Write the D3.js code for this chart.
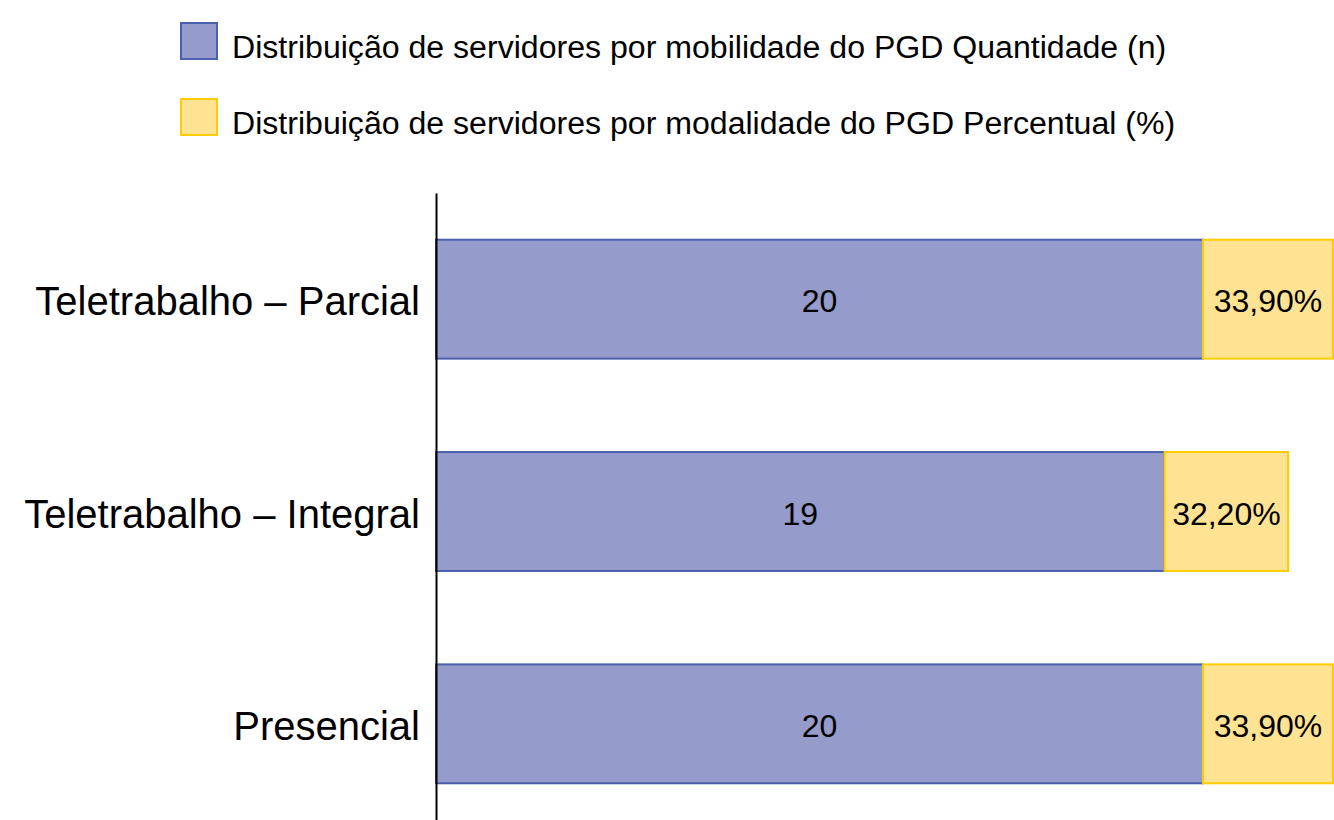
<!DOCTYPE html>
<html>
<head>
<meta charset="utf-8">
<script src="https://cdn.jsdelivr.net/npm/d3@7"></script>
<style>
  html, body { margin: 0; padding: 0; background: #ffffff; }
  svg { display: block; font-family: "Liberation Sans", Arial, sans-serif; }
</style>
</head>
<body>
<svg id="chart" width="1334" height="820"></svg>
<script>
// Categories and series
const categories = ["Teletrabalho – Parcial", "Teletrabalho – Integral", "Presencial"];
const quantidade = [20, 19, 20];
const percentual = [33.9, 32.2, 33.9];
const percentLabels = ["33,90%", "32,20%", "33,90%"];
const seriesNames = [
  "Distribuição de servidores por mobilidade do PGD Quantidade (n)",
  "Distribuição de servidores por modalidade do PGD Percentual (%)"
];

const svg = d3.select("#chart");

const colors = {
  qFill: "#959bcb", qStroke: "#4a60ae",
  pFill: "#ffe393", pStroke: "#ffcc00"
};
const fontFamily = "'Liberation Sans', Arial, sans-serif";

// Scales
const y = d3.scaleBand()
  .domain(categories)
  .range([193, 830])
  .paddingInner(0.44)
  .paddingOuter(0.22);

const xCount = d3.scaleLinear().domain([0, 20]).range([436, 1203]);
const xPct = d3.scaleLinear().domain([0, 100]).range([0, 383.5]);

const rows = categories.map((c, i) => ({
  cat: c, n: quantidade[i], p: percentual[i], pl: percentLabels[i]
}));

// Quantity bars
svg.append("g").selectAll("rect").data(rows).join("rect")
  .attr("x", xCount(0))
  .attr("y", d => y(d.cat))
  .attr("width", d => xCount(d.n) - xCount(0))
  .attr("height", y.bandwidth())
  .attr("fill", colors.qFill)
  .attr("stroke", colors.qStroke)
  .attr("stroke-width", 2);

// Percentage bars stacked after the quantity bars
svg.append("g").selectAll("rect").data(rows).join("rect")
  .attr("x", d => xCount(d.n))
  .attr("y", d => y(d.cat))
  .attr("width", d => xPct(d.p))
  .attr("height", y.bandwidth())
  .attr("fill", colors.pFill)
  .attr("stroke", colors.pStroke)
  .attr("stroke-width", 2);

// Value labels
const valueStyle = sel => sel
  .attr("text-anchor", "middle")
  .attr("dominant-baseline", "central")
  .attr("font-size", 32)
  .attr("fill", "#000");

svg.append("g").selectAll("text").data(rows).join("text")
  .attr("x", d => (xCount(0) + xCount(d.n)) / 2)
  .attr("y", d => y(d.cat) + y.bandwidth() / 2 + 2)
  .call(valueStyle)
  .text(d => d.n);

svg.append("g").selectAll("text").data(rows).join("text")
  .attr("x", d => xCount(d.n) + xPct(d.p) / 2)
  .attr("y", d => y(d.cat) + y.bandwidth() / 2 + 2)
  .call(valueStyle)
  .text(d => d.pl);

// Category axis
const yAxis = d3.axisLeft(y).tickSize(0).tickPadding(16);
const axisG = svg.append("g")
  .attr("transform", `translate(${xCount(0)},0)`)
  .call(yAxis);
axisG.select(".domain").attr("stroke", "#000").attr("stroke-width", 2);
axisG.selectAll(".tick text")
  .attr("font-size", 40)
  .attr("font-family", fontFamily)
  .attr("fill", "#000")
  .attr("dy", "0.4em");

// Legend
const legend = svg.append("g");
const legendItems = [
  { name: seriesNames[0], fill: colors.qFill, stroke: colors.qStroke, y: 22 },
  { name: seriesNames[1], fill: colors.pFill, stroke: colors.pStroke, y: 98 }
];
legendItems.forEach(it => {
  legend.append("rect")
    .attr("x", 181).attr("y", it.y + 1)
    .attr("width", 36).attr("height", 36)
    .attr("fill", it.fill).attr("stroke", it.stroke).attr("stroke-width", 2);
  legend.append("text")
    .attr("x", 232).attr("y", it.y + 25)
    .attr("dominant-baseline", "central")
    .attr("font-size", 32.1)
    .attr("fill", "#000")
    .text(it.name);
});
</script>
</body>
</html>
